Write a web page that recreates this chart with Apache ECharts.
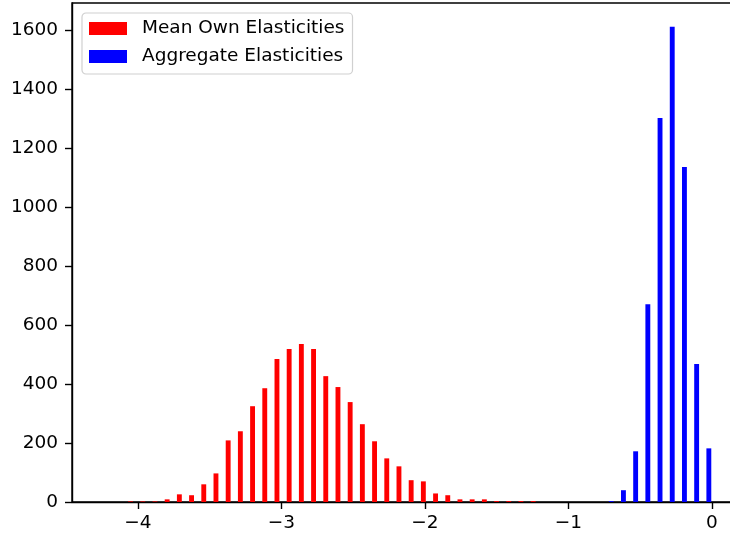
<!DOCTYPE html>
<html>
<head>
<meta charset="utf-8">
<script src="https://cdn.jsdelivr.net/npm/echarts@6/dist/echarts.min.js"></script>
<style>
  html, body { margin: 0; padding: 0; background: #fff; }
  #chart { width: 730px; height: 535px; }
</style>
</head>
<body>
<div id="chart"></div>
<script>
// Histogram bin edges (shared by both datasets)
const binEdges = [-4.246, -4.161, -4.076, -3.991, -3.906, -3.821, -3.736, -3.651, -3.566, -3.481,
  -3.396, -3.311, -3.226, -3.141, -3.056, -2.971, -2.886, -2.801, -2.716, -2.631,
  -2.546, -2.461, -2.376, -2.291, -2.206, -2.121, -2.036, -1.951, -1.866, -1.781,
  -1.696, -1.611, -1.526, -1.441, -1.356, -1.271, -1.186, -1.101, -1.016, -0.931,
  -0.846, -0.761, -0.676, -0.591, -0.506, -0.421, -0.336, -0.251, -0.166, -0.081, 0.004];
const seriesNames = ['Mean Own Elasticities', 'Aggregate Elasticities'];
const redCounts = [0, 0, 2, 2, 2, 9, 26, 23, 60, 97,
  209, 240, 325, 386, 485, 519, 536, 519, 427, 390,
  339, 264, 206, 148, 121, 74, 70, 29, 23, 9,
  9, 9, 3, 3, 3, 3, 0, 0, 0, 0,
  0, 0, 0, 0, 0, 0, 0, 0, 0, 0];
const blueCounts = [0, 0, 0, 0, 0, 0, 0, 0, 0, 0,
  0, 0, 0, 0, 0, 0, 0, 0, 0, 0,
  0, 0, 0, 0, 0, 0, 0, 0, 0, 0,
  0, 0, 0, 0, 0, 0, 0, 0, 0, 0,
  0, 3, 40, 172, 671, 1303, 1612, 1137, 468, 182];
const xTickValues = [-4, -3, -2, -1, 0];
const yTickValues = [0, 200, 400, 600, 800, 1000, 1200, 1400, 1600];

function buildData(counts) {
  return counts.map((c, i) => [binEdges[i], binEdges[i + 1], c]);
}

function makeRender(startFrac, endFrac) {
  return function (params, api) {
    const l = api.value(0), r = api.value(1), c = api.value(2);
    if (!c) return null;
    const w = r - l;
    const p0 = api.coord([l + startFrac * w, c]);
    const p1 = api.coord([l + endFrac * w, 0]);
    return {
      type: 'rect',
      shape: { x: p0[0], y: p0[1], width: p1[0] - p0[0], height: p1[1] - p0[1] },
      style: { fill: api.visual('color') }
    };
  };
}

const FONT = 'DejaVu Sans';
const FS = 18.5;
const chart = echarts.init(document.getElementById('chart'), null, { renderer: 'canvas' });
chart.setOption({
  animation: false,
  backgroundColor: '#ffffff',
  textStyle: { fontFamily: FONT },
  grid: {
    left: 72, top: 3, width: 671, height: 499,
    containLabel: false, outerBoundsMode: 'none',
    show: true, borderColor: '#000', borderWidth: 1.4, backgroundColor: 'transparent'
  },
  legend: {
    orient: 'vertical',
    left: 82, top: 13,
    padding: [6, 8, 8, 7],
    itemWidth: 38, itemHeight: 13, itemGap: 9,
    borderColor: '#d0d0d0', borderWidth: 1.2, borderRadius: 4,
    backgroundColor: 'rgba(255,255,255,0.8)',
    textStyle: { fontFamily: FONT, fontSize: FS, color: '#000', padding: [0, 0, 0, 10] },
    data: [
      { name: seriesNames[0], icon: 'rect' },
      { name: seriesNames[1], icon: 'rect' }
    ]
  },
  xAxis: {
    type: 'value',
    min: -4.4585, max: 0.2165,
    splitLine: { show: false },
    axisLine: { show: true, onZero: false, lineStyle: { color: '#000', width: 1.4 } },
    axisTick: { show: true, length: 7, customValues: xTickValues, lineStyle: { color: '#000', width: 1.4 } },
    axisLabel: {
      customValues: xTickValues,
      margin: 12, fontFamily: FONT, fontSize: FS, color: '#000',
      formatter: v => (v < 0 ? '\u2212' + Math.abs(v) : String(v))
    }
  },
  yAxis: {
    type: 'value',
    min: 0, max: 1693,
    splitLine: { show: false },
    axisLine: { show: true, onZero: false, lineStyle: { color: '#000', width: 1.4 } },
    axisTick: { show: true, length: 7, customValues: yTickValues, lineStyle: { color: '#000', width: 1.4 } },
    axisLabel: {
      customValues: yTickValues,
      margin: 14, fontFamily: FONT, fontSize: FS, color: '#000',
      formatter: v => String(v)
    }
  },
  series: [
    {
      name: seriesNames[0], type: 'custom',
      itemStyle: { color: '#ff0000' },
      encode: { x: [0, 1], y: 2 },
      renderItem: makeRender(0.1, 0.5),
      data: buildData(redCounts)
    },
    {
      name: seriesNames[1], type: 'custom',
      itemStyle: { color: '#0000ff' },
      encode: { x: [0, 1], y: 2 },
      renderItem: makeRender(0.5, 0.9),
      data: buildData(blueCounts)
    }
  ]
});
</script>
</body>
</html>
